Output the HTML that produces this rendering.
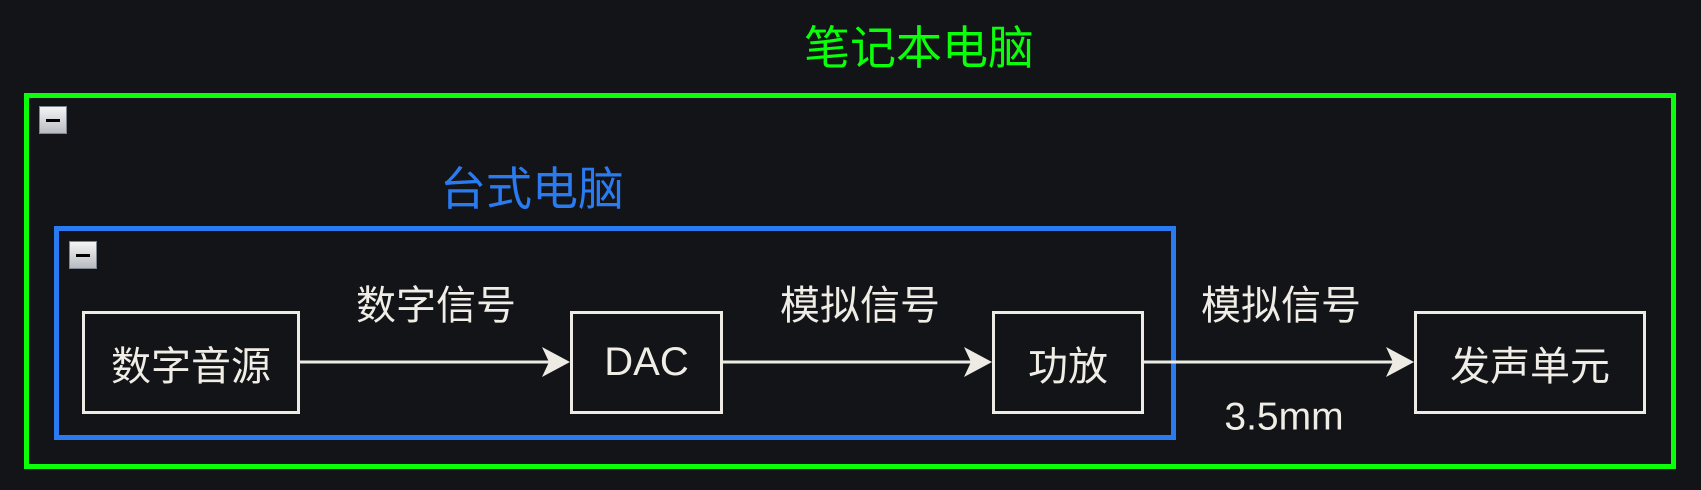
<!DOCTYPE html>
<html><head><meta charset="utf-8"><style>
html,body{margin:0;padding:0;background:#131417;}
body{width:1701px;height:490px;position:relative;overflow:hidden;font-family:"Liberation Sans","Noto Sans CJK SC",sans-serif;}
.t{position:absolute;white-space:nowrap;transform:translate(-50%,-50%);line-height:1;}
.box{position:absolute;box-sizing:border-box;border:3px solid #eeebe4;display:flex;align-items:center;justify-content:center;color:#f0ede6;font-size:40px;}
.tog{position:absolute;width:28px;height:28px;box-sizing:border-box;border:1px solid #7d8590;background:linear-gradient(#f4f4f4,#b8bcc2);}
.tog:after{content:"";position:absolute;left:6px;right:6px;top:12px;height:3px;background:#000;}
</style></head><body>
<div style="position:absolute;left:24px;top:93px;width:1652px;height:376px;box-sizing:border-box;border:5px solid #0bff0b;"></div>
<div class="t" style="left:919px;top:48px;color:#0bff0b;font-size:46px;">笔记本电脑</div>
<div class="tog" style="left:39px;top:106px;"></div>
<div style="position:absolute;left:54px;top:226px;width:1122px;height:214px;box-sizing:border-box;border:5px solid #2a7bf2;"></div>
<div class="t" style="left:532px;top:189px;color:#2a7bf2;font-size:46px;">台式电脑</div>
<div class="tog" style="left:69px;top:241px;"></div>
<svg style="position:absolute;left:0;top:0" width="1701" height="490">
<g stroke="#eeebe4" stroke-width="3">
<line x1="300" y1="362" x2="560" y2="362"/>
<line x1="723" y1="362" x2="980" y2="362"/>
<line x1="1144" y1="362" x2="1402" y2="362"/>
</g>
<g fill="#eeebe4">
<path d="M570 362 L542 347 L549 362 L542 377 Z"/>
<path d="M992 362 L964 347 L971 362 L964 377 Z"/>
<path d="M1414 362 L1386 347 L1393 362 L1386 377 Z"/>
</g>
</svg>
<div class="box" style="left:82px;top:311px;width:218px;height:103px;">数字音源</div>
<div class="box" style="left:570px;top:311px;width:153px;height:103px;">DAC</div>
<div class="box" style="left:992px;top:311px;width:152px;height:103px;">功放</div>
<div class="box" style="left:1414px;top:311px;width:232px;height:103px;">发声单元</div>
<div class="t" style="left:436px;top:306px;color:#f0ede6;font-size:40px;">数字信号</div>
<div class="t" style="left:860px;top:306px;color:#f0ede6;font-size:40px;">模拟信号</div>
<div class="t" style="left:1281px;top:306px;color:#f0ede6;font-size:40px;">模拟信号</div>
<div class="t" style="left:1284px;top:417px;color:#f0ede6;font-size:39px;">3.5mm</div>
</body></html>
